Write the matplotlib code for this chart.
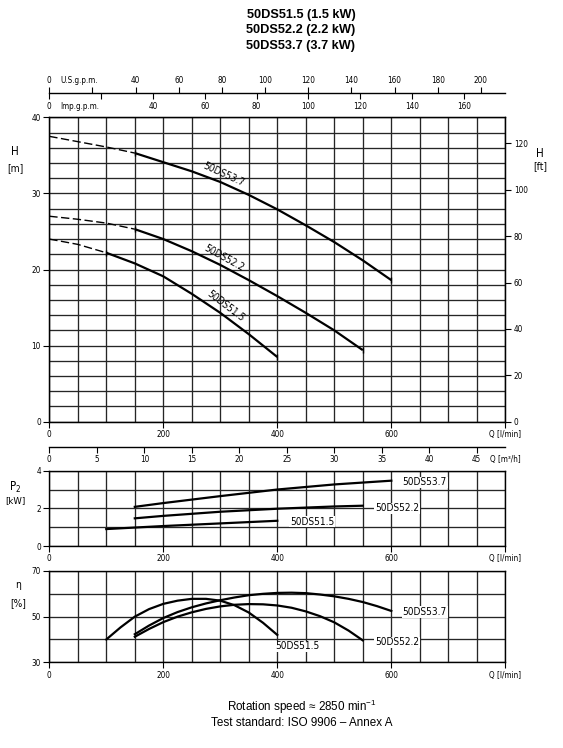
import math
import numpy as np
import matplotlib
matplotlib.use('Agg')
import matplotlib.pyplot as plt
import matplotlib.font_manager as fm
import matplotlib.transforms as mtransforms

# ---------------- data ----------------
MODELS = ['50DS51.5', '50DS52.2', '50DS53.7']
TITLE_LINES = ['50DS51.5 (1.5 kW)', '50DS52.2 (2.2 kW)', '50DS53.7 (3.7 kW)']
NOTE_LINES = [r'Rotation speed ≈ 2850 min$^{\mathregular{-1}}$',
              'Test standard: ISO 9906 – Annex A']

# Head curves  (Q in l/min, H in m)
H_Q_515 = [0, 50, 100, 150, 200, 250, 300, 350, 400]
H_515 = [24.0, 23.3, 22.2, 20.8, 19.1, 16.8, 14.3, 11.5, 8.5]
H_Q_522 = [0, 50, 100, 150, 200, 250, 300, 350, 400, 450, 500, 550]
H_522 = [27.0, 26.6, 26.1, 25.3, 24.0, 22.4, 20.6, 18.6, 16.5, 14.3, 12.0, 9.4]
H_Q_537 = [0, 50, 100, 150, 200, 250, 300, 350, 400, 450, 500, 550, 600]
H_537 = [37.5, 36.8, 36.1, 35.3, 34.1, 32.9, 31.5, 29.8, 27.9, 25.8, 23.6, 21.2, 18.6]
H_DASH_END = [100, 150, 150]          # end of the dashed (non-operating) part

# Power curves (kW)
P_Q_515 = [100, 150, 200, 250, 300, 350, 400]
P_515 = [0.90, 0.98, 1.06, 1.13, 1.20, 1.27, 1.34]
P_Q_522 = [150, 200, 300, 400, 500, 550]
P_522 = [1.47, 1.60, 1.82, 1.98, 2.10, 2.14]
P_Q_537 = [150, 200, 300, 400, 500, 600]
P_537 = [2.08, 2.28, 2.65, 3.00, 3.27, 3.47]

# Efficiency curves (%)
E_Q_515 = [100, 125, 150, 175, 200, 225, 250, 275, 300, 325, 350, 375, 400]
E_515 = [40.0, 45.3, 50.0, 53.3, 55.6, 57.0, 57.8, 57.8, 57.0, 55.0, 51.8, 47.3, 42.0]
E_Q_522 = [150, 175, 200, 225, 250, 275, 300, 325, 350, 375, 400, 425, 450, 475, 500, 525, 550]
E_522 = [41.2, 44.6, 47.6, 50.0, 51.9, 53.4, 54.5, 55.2, 55.5, 55.4, 54.9, 53.9, 52.3,
         50.2, 47.5, 43.9, 39.6]
E_Q_537 = [150, 175, 200, 225, 250, 275, 300, 325, 350, 375, 400, 425, 450, 475, 500,
           525, 550, 575, 600]
E_537 = [42.3, 46.1, 49.4, 52.0, 54.1, 55.8, 57.2, 58.4, 59.4, 60.0, 60.4, 60.5, 60.3,
         59.7, 58.9, 57.8, 56.4, 54.6, 52.5]

# axis tick values
Q_TICKS = [0, 200, 400, 600, 800]
Q_TICKLABELS = ['0', '200', '400', '600', 'Q [l/min]']
M3H_TICKS = [0, 5, 10, 15, 20, 25, 30, 35, 40, 45]
US_TICKS = [0, 20, 40, 60, 80, 100, 120, 140, 160, 180, 200]
US_LABELS = ['0', '', '40', '60', '80', '100', '120', '140', '160', '180', '200']
IMP_TICKS = [0, 20, 40, 60, 80, 100, 120, 140, 160]
IMP_LABELS = ['0', '', '40', '60', '80', '100', '120', '140', '160']
FT_TICKS = [0, 20, 40, 60, 80, 100, 120]
H_TICKS = [0, 10, 20, 30, 40]
P_TICKS = [0, 2, 4]
E_TICKS = [30, 50, 70]

L_PER_USGAL = 3.78541
L_PER_IMPGAL = 4.54609

# ---------------- fonts ----------------
names = {f.name for f in fm.fontManager.ttflist}
if 'Liberation Sans Narrow' in names:
    NFAM, NSTRETCH, TS, LS = 'Liberation Sans Narrow', 'normal', 7.0, 8.7
elif any(f.name == 'DejaVu Sans' and str(f.stretch) == 'condensed' for f in fm.fontManager.ttflist):
    NFAM, NSTRETCH, TS, LS = 'DejaVu Sans', 'condensed', 5.9, 7.2
else:
    NFAM, NSTRETCH, TS, LS = 'DejaVu Sans', 'normal', 5.5, 6.6

plt.rcParams['font.family'] = [NFAM, 'DejaVu Sans']
plt.rcParams['font.stretch'] = NSTRETCH
plt.rcParams['font.size'] = TS
plt.rcParams['xtick.labelsize'] = TS
plt.rcParams['ytick.labelsize'] = TS
plt.rcParams['mathtext.default'] = 'regular'

SANS = ['Liberation Sans', 'Arial', 'DejaVu Sans']

# ---------------- layout ----------------
W, HF = 563, 748
fig = plt.figure(figsize=(W / 100, HF / 100), dpi=100)
fig.patch.set_facecolor('white')


def fx(px):
    return px / W


def fy(py):
    return 1 - py / HF


XL, XR = 49.3, 505.3
GRID_C = '#262626'
TL = 4.3


def make_panel(top, bottom, ylim, yticks, yminor):
    ax = fig.add_axes([fx(XL), fy(bottom), fx(XR - XL), (bottom - top) / HF])
    ax.set_xlim(0, 800)
    ax.set_ylim(*ylim)
    ax.set_xticks(Q_TICKS, Q_TICKLABELS)
    ax.set_xticks(np.arange(0, 801, 50), minor=True)
    ax.set_yticks(yticks)
    ax.set_yticks(yminor, minor=True)
    ax.grid(True, which='both', color=GRID_C, lw=0.95)
    ax.set_axisbelow(True)
    ax.tick_params(which='major', direction='out', length=TL, width=0.8, pad=1.8)
    ax.tick_params(which='minor', length=0)
    for s in ax.spines.values():
        s.set_linewidth(1.0)
        s.set_color('black')
    return ax


ax_h = make_panel(117.3, 421.7, (0, 40), H_TICKS, np.arange(0, 41, 2))
ax_p = make_panel(470.7, 546.0, (0, 4), P_TICKS, [1, 3])
ax_e = make_panel(571.0, 662.3, (30, 70), E_TICKS, [40, 60])

# right ft axis
ax_ft = ax_h.twinx()
ax_ft.set_ylim(0, 40 / 0.3048)
ax_ft.set_yticks(FT_TICKS)
ax_ft.tick_params(direction='out', length=TL, width=0.8, pad=1.8)
ax_ft.grid(False)

# top flow axes (US gpm above, Imp gpm below)
ax_t = fig.add_axes([fx(XL), fy(93.3), fx(XR - XL), 1e-5])
ax_t.set_xlim(0, 800)
ax_t.set_yticks([])
ax_t.patch.set_visible(False)
for k in ('top', 'left', 'right'):
    ax_t.spines[k].set_visible(False)
ax_t.spines['bottom'].set_linewidth(1.0)
ax_t.set_xticks(np.array(IMP_TICKS) * L_PER_IMPGAL, IMP_LABELS)
ax_t.set_xticks([53], ['Imp.g.p.m.'], minor=True)
ax_t.tick_params(axis='x', which='major', direction='out', length=TL, width=0.8, pad=1.8)
ax_t.tick_params(axis='x', which='minor', length=0, pad=1.8 + TL)

ax_u = ax_t.twiny()
ax_u.set_xlim(0, 800)
ax_u.patch.set_visible(False)
for s in ax_u.spines.values():
    s.set_visible(False)
ax_u.set_xticks(np.array(US_TICKS) * L_PER_USGAL, US_LABELS)
ax_u.set_xticks([53], ['U.S.g.p.m.'], minor=True)
ax_u.tick_params(axis='x', which='major', direction='out', length=TL, width=0.8, pad=2.0)
ax_u.tick_params(axis='x', which='minor', length=0, pad=2.0 + TL)

# m3/h axis
ax_m = fig.add_axes([fx(XL), fy(446.7), fx(XR - XL), 1e-5])
ax_m.set_xlim(0, 800)
ax_m.set_yticks([])
ax_m.patch.set_visible(False)
for k in ('top', 'left', 'right'):
    ax_m.spines[k].set_visible(False)
ax_m.spines['bottom'].set_linewidth(1.0)
ax_m.set_xticks(np.array(M3H_TICKS) * 1000 / 60, [str(v) for v in M3H_TICKS])
ax_m.set_xticks([800], ['Q [m³/h]'], minor=True)
ax_m.tick_params(axis='x', which='major', direction='out', length=TL, width=0.8, pad=1.8)
ax_m.tick_params(axis='x', which='minor', length=0, pad=1.8 + TL)

# ---------------- curves ----------------
H_SETS = [(H_Q_515, H_515), (H_Q_522, H_522), (H_Q_537, H_537)]
P_SETS = [(P_Q_515, P_515), (P_Q_522, P_522), (P_Q_537, P_537)]
E_SETS = [(E_Q_515, E_515), (E_Q_522, E_522), (E_Q_537, E_537)]

for (q, h), qd in zip(H_SETS, H_DASH_END):
    q = np.array(q, float)
    h = np.array(h, float)
    md = q <= qd
    ms = q >= qd
    ax_h.plot(q[md], h[md], color='k', lw=1.0, ls=(0, (6, 2.5)), zorder=4)
    ax_h.plot(q[ms], h[ms], color='k', lw=1.6, zorder=4, solid_capstyle='butt')
    ax_h.plot([q[ms][0], q[-1]], [h[ms][0], h[-1]], ls='none', marker='|',
              ms=4, mew=1.0, color='k', zorder=4)

for q, v in P_SETS:
    ax_p.plot(q, v, color='k', lw=1.6, zorder=4)
for q, v in E_SETS:
    ax_e.plot(q, v, color='k', lw=1.6, zorder=4)

# curve labels on H chart (centred over Q = 300, parallel to curve)
QL = 300
for name, (q, h) in zip(MODELS, H_SETS):
    p1 = ax_h.transData.transform((QL - 50, np.interp(QL - 50, q, h)))
    p2 = ax_h.transData.transform((QL + 50, np.interp(QL + 50, q, h)))
    ang = math.degrees(math.atan2(p2[1] - p1[1], p2[0] - p1[0])) - 2
    th = math.radians(ang)
    d = 5.8
    tr = mtransforms.offset_copy(ax_h.transData, fig=fig, x=-d * math.sin(th),
                                 y=d * math.cos(th), units='points')
    ax_h.text(QL, np.interp(QL, q, h), name, transform=tr, rotation=ang,
              rotation_mode='anchor', ha='center', va='center', fontsize=LS, zorder=6)

BOX = dict(facecolor='white', edgecolor='none', pad=0.6)
# P2 labels
ax_p.text(422, 1.30, MODELS[0], ha='left', va='center', fontsize=LS, bbox=BOX, zorder=5)
ax_p.text(571, 2.00, MODELS[1], ha='left', va='center', fontsize=LS, bbox=BOX, zorder=5)
ax_p.text(620, 3.38, MODELS[2], ha='left', va='center', fontsize=LS, bbox=BOX, zorder=5)
# efficiency labels
ax_e.text(397, 37.0, MODELS[0], ha='left', va='center', fontsize=LS, bbox=BOX, zorder=5)
ax_e.text(571, 38.7, MODELS[1], ha='left', va='center', fontsize=LS, bbox=BOX, zorder=5)
ax_e.text(620, 52.0, MODELS[2], ha='left', va='center', fontsize=LS, bbox=BOX, zorder=5)

# ---------------- axis titles ----------------
YL = 8.3
fig.text(fx(15), fy(151.7), 'H', ha='center', va='center', fontsize=YL)
fig.text(fx(15), fy(168.0), '[m]', ha='center', va='center', fontsize=YL - 1)
fig.text(fx(540), fy(153.3), 'H', ha='center', va='center', fontsize=YL)
fig.text(fx(540), fy(166.0), '[ft]', ha='center', va='center', fontsize=YL - 1)
fig.text(fx(15), fy(487.0), r'P$_{2}$', ha='center', va='center', fontsize=YL)
fig.text(fx(15), fy(500.7), '[kW]', ha='center', va='center', fontsize=YL - 1.5)
fig.text(fx(18), fy(585.0), 'η', ha='center', va='center', fontsize=YL - 1)
fig.text(fx(18), fy(603.0), '[%]', ha='center', va='center', fontsize=YL - 1)

# ---------------- title & notes ----------------
for i, t in enumerate(TITLE_LINES):
    fig.text(fx(301), fy(15 + 15.3 * i), t, ha='center', va='center', fontsize=9.2,
             fontweight='bold', family=SANS, fontstretch='normal')
for i, t in enumerate(NOTE_LINES):
    fig.text(fx(302), fy(706.7 + 16.6 * i), t, ha='center', va='center', fontsize=8.4,
             family=SANS, fontstretch='normal')

fig.savefig('out.png', dpi=100, facecolor='white')
